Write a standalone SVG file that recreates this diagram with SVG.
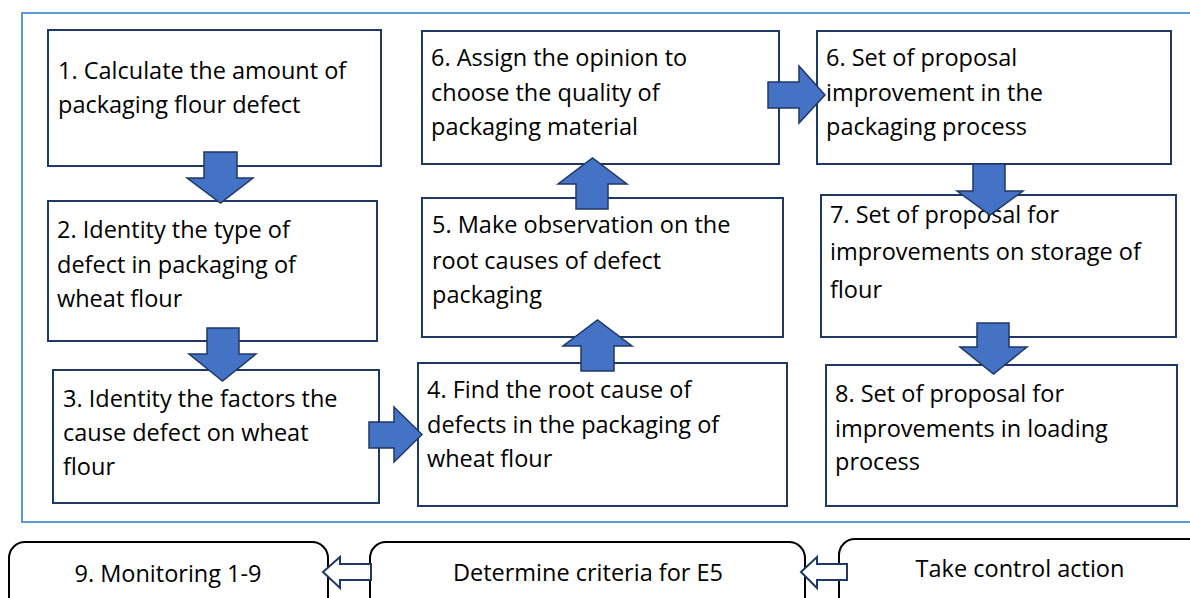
<svg xmlns="http://www.w3.org/2000/svg" width="1190" height="598" viewBox="0 0 1190 598">
<style>
.box{fill:#fff;stroke:#1f3864;stroke-width:2}
.rbox{fill:#fff;stroke:#000;stroke-width:2}
.t{font-family:"Open Sans","Liberation Sans",sans-serif;font-size:23.5px;fill:#000}
.c{text-anchor:middle}
.arr{fill:#4472c4;stroke:#1f3864;stroke-width:1.5;stroke-linejoin:miter}
.harr{fill:#fff;stroke:#1f3864;stroke-width:2}
</style>
<rect width="1190" height="598" fill="#fff"/>
<rect x="22" y="13" width="1200" height="509" fill="none" stroke="#5b9bd5" stroke-width="2"/>

<g id="n1"><rect class="box" x="48" y="30" width="333" height="136"/>
<text class="t" x="58" y="79">1. Calculate the amount of</text>
<text class="t" x="58" y="113">packaging flour defect</text></g>

<g id="n2"><rect class="box" x="48" y="201" width="329" height="140"/>
<text class="t" x="57" y="238">2. Identity the type of</text>
<text class="t" x="57" y="273">defect in packaging of</text>
<text class="t" x="57" y="307">wheat flour</text></g>

<g id="n3"><rect class="box" x="53" y="370" width="326" height="133"/>
<text class="t" x="63" y="407">3. Identity the factors the</text>
<text class="t" x="63" y="441">cause defect on wheat</text>
<text class="t" x="63" y="475">flour</text></g>

<g id="n4"><rect class="box" x="418" y="363" width="369" height="143"/>
<text class="t" x="427" y="398">4. Find the root cause of</text>
<text class="t" x="427" y="433">defects in the packaging of</text>
<text class="t" x="427" y="467">wheat flour</text></g>

<g id="n5"><rect class="box" x="422" y="198" width="361" height="139"/>
<text class="t" x="432" y="233">5. Make observation on the</text>
<text class="t" x="432" y="269">root causes of defect</text>
<text class="t" x="432" y="303">packaging</text></g>

<g id="n6"><rect class="box" x="422" y="31" width="357" height="133"/>
<text class="t" x="431" y="66">6. Assign the opinion to</text>
<text class="t" x="431" y="101">choose the quality of</text>
<text class="t" x="431" y="135">packaging material</text></g>

<g id="n6b"><rect class="box" x="817" y="31" width="354" height="133"/>
<text class="t" x="826" y="66">6. Set of proposal</text>
<text class="t" x="826" y="101">improvement in the</text>
<text class="t" x="826" y="135">packaging process</text></g>

<g id="n7"><rect class="box" x="821" y="195" width="355" height="142"/>
<text class="t" x="830" y="223">7. Set of proposal for</text>
<text class="t" x="830" y="260">improvements on storage of</text>
<text class="t" x="830" y="298">flour</text></g>

<g id="n8"><rect class="box" x="826" y="365" width="351" height="141"/>
<text class="t" x="835" y="402">8. Set of proposal for</text>
<text class="t" x="835" y="437">improvements in loading</text>
<text class="t" x="835" y="470">process</text></g>

<g id="n9"><rect class="rbox" x="9" y="542" width="319" height="90" rx="16"/>
<text class="t c" x="168" y="582">9. Monitoring 1-9</text></g>

<g id="n10"><rect class="rbox" x="370" y="542" width="435" height="90" rx="16"/>
<text class="t c" x="588" y="581">Determine criteria for E5</text></g>

<g id="n11"><rect class="rbox" x="839" y="539" width="420" height="90" rx="16"/>
<text class="t c" x="1020" y="577">Take control action</text></g>

<g id="connectors">
<polygon class="arr" points="204,152 237,152 237,178 253,178 220.5,203 187,178 204,178"/>
<polygon class="arr" points="207,328 239,328 239,354 256,354 222.5,381 189,354 207,354"/>
<polygon class="arr" points="369,422 394,422 394,407 422,434.5 394,462 394,448 369,448"/>
<polygon class="arr" points="581,371 581,346 563,346 597.5,320 632,346 614,346 614,371"/>
<polygon class="arr" points="576,209 576,184 558,184 592.5,158 627,184 608,184 608,209"/>
<polygon class="arr" points="768,82 799,82 799,66 825,95 799,123 799,108 768,108"/>
<polygon class="arr" points="973,164 1005,164 1005,191 1023,191 990,215 957,191 973,191"/>
<polygon class="arr" points="977,323 1009,323 1009,347 1027,347 993.5,374 960,347 977,347"/>
<polygon class="harr" points="323,572 340,557 340,564 371,564 371,580 340,580 340,588"/>
<polygon class="harr" points="801,572 817,557 817,564 847,564 847,580 817,580 817,588"/>
</g>
</svg>
